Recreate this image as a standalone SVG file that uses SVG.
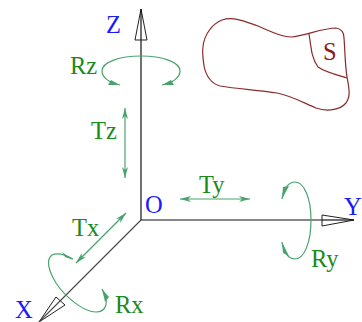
<svg xmlns="http://www.w3.org/2000/svg" width="362" height="322" viewBox="0 0 362 322">
<style>
text{font-family:"Liberation Serif","Times New Roman",serif;font-size:24.5px}
.b{fill:#1a1aff}
.g{fill:#1a8a1a}
.s{fill:#8b1a1a}
.axis{stroke:#111;stroke-width:1.2;fill:none}
.axx{stroke:#444;stroke-width:1.1;fill:none}
.head{fill:#fff;stroke:#222;stroke-width:1;stroke-linejoin:miter}
.mv{stroke:#4aa36f;stroke-width:1.2;fill:none}
.ma{stroke:#4aa36f;stroke-width:1.2;fill:none;marker-start:url(#ah);marker-end:url(#ah)}
.wedge{fill:#4aa36f}
.blob{stroke:#8b2a2a;stroke-width:1.2;fill:none}
</style>
<defs>
<marker id="ah" viewBox="0 0 11 6" refX="11" refY="3" markerWidth="11" markerHeight="6" markerUnits="userSpaceOnUse" orient="auto-start-reverse">
<path d="M11 3L0 0L3 3L0 6Z" fill="#4aa36f"/>
</marker>
</defs>
<g id="connectors">
<path class="axis" d="M141 220V40"/>
<path class="axis" d="M141 220H322"/>
<path class="axx" d="M141 220L60 301"/>
<path class="head" d="M141 9L135 40H147Z"/>
<path class="axis" d="M141 9V40"/>
<path class="head" d="M354 220L322 215V226Z"/>
<path class="axis" d="M322 220H354"/>
<path class="head" d="M39 322L56 297L65 305Z"/>
<path class="axx" d="M60 301L39 322"/>
<path class="ma" d="M125 108V178"/>
<path class="ma" d="M180 199H250"/>
<path class="ma" d="M126 213L76 263"/>
</g>
<g id="rotations">
<path class="mv" d="M120 85C110 83 102 78 102 71C102 62 120 56 141 56C162 56 180 62 180 71C180 78 172 83 162 85"/>
<path class="wedge" d="M120 85L108 85L111 80Z M162 85L174 85L171 80Z"/>
<path class="mv" d="M282 199C283 190 288 182 295 182C304 182 311 198 311 220C311 243 304 259 295 259C288 259 283 251 282 242"/>
<path class="wedge" d="M282 199L283 187L289 186Z M282 242L283 253L289 256Z"/>
<path class="mv" d="M73 259C66 255 58 252 52 255C46 259 48 270 56 283C66 298 84 312 96 312C106 312 110 303 102 289"/>
<path class="wedge" d="M73 260L62 252L65 257Z M102 289L109 297L105 302Z"/>
</g>
<g id="surface">
<path class="blob" d="M203 47C204 35 212 24 222 20C234 16 246 22 258 26C270 31 280 37 291 37C305 36 322 28 336 28C342 29 344 32 344 38C345 50 345 65 347 77C349 88 351 96 346 103C340 110 327 112 316 108C304 103 292 96 277 93C258 90 238 89 220 86C210 83 206 76 204 66C203 58 202 52 203 47Z"/>
<path class="blob" d="M309 34C311 45 311 58 318 67C325 72 337 75 347 78"/>
<text class="s" x="323" y="60">S</text>
</g>
<g id="labels">
<text class="b" x="106" y="33">Z</text>
<text class="b" x="145" y="213">O</text>
<text class="b" x="344" y="215">Y</text>
<text class="b" x="15" y="318">X</text>
<text class="g" x="70" y="74">Rz</text>
<text class="g" x="91" y="139">Tz</text>
<text class="g" x="199" y="193">Ty</text>
<text class="g" x="311" y="267">Ry</text>
<text class="g" x="72" y="236">Tx</text>
<text class="g" x="115" y="313">Rx</text>
</g>
</svg>
